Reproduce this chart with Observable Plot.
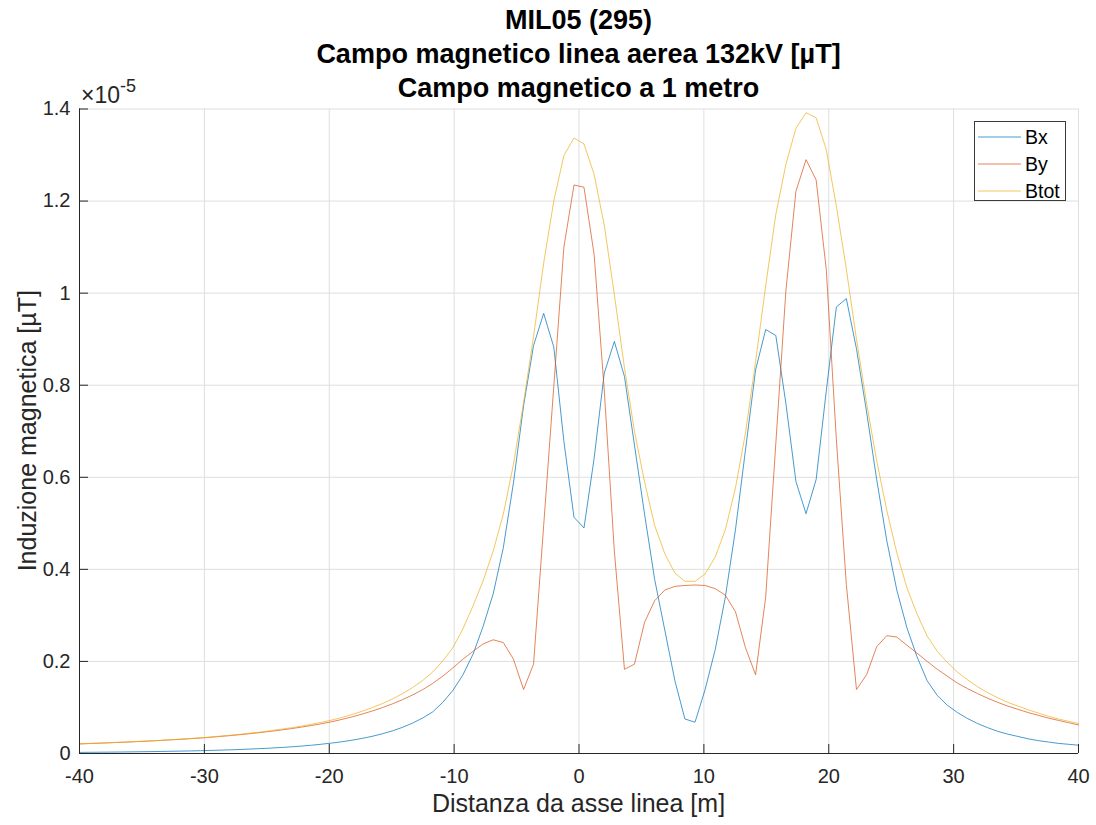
<!DOCTYPE html>
<html><head><meta charset="utf-8">
<script src="https://cdn.jsdelivr.net/npm/d3@7"></script>
<script src="https://cdn.jsdelivr.net/npm/@observablehq/plot@0.6"></script>
<style>
body{margin:0;background:#fff;}
#wrap{position:relative;width:1096px;height:825px;font-family:"Liberation Sans",Arial,Helvetica,sans-serif;}
#legend{position:absolute;left:974px;top:121px;width:92px;height:80px;border:1px solid #3a3a3a;background:#fff;box-sizing:border-box;}
.lrow{position:absolute;left:3px;height:22px;display:flex;align-items:center;font-size:19.5px;color:#000;}
.lrow svg{margin-right:4px;}
</style></head><body><div id="wrap"></div>
<script>
// sample positions along the line axis [m]
const xs = [-40.00,-39.19,-38.38,-37.58,-36.77,-35.96,-35.15,-34.34,-33.54,-32.73,
-31.92,-31.11,-30.30,-29.49,-28.69,-27.88,-27.07,-26.26,-25.45,-24.65,
-23.84,-23.03,-22.22,-21.41,-20.61,-19.80,-18.99,-18.18,-17.37,-16.57,
-15.76,-14.95,-14.14,-13.33,-12.53,-11.72,-10.91,-10.10,-9.29,-8.48,
-7.68,-6.87,-6.06,-5.25,-4.44,-3.64,-2.83,-2.02,-1.21,-0.40,
0.40,1.21,2.02,2.83,3.64,4.44,5.25,6.06,6.87,7.68,
8.48,9.29,10.10,10.91,11.72,12.53,13.33,14.14,14.95,15.76,
16.57,17.37,18.18,18.99,19.80,20.61,21.41,22.22,23.03,23.84,
24.65,25.45,26.26,27.07,27.88,28.69,29.49,30.30,31.11,31.92,
32.73,33.54,34.34,35.15,35.96,36.77,37.58,38.38,39.19,40.00];

// values in units of 1e-5
const bx = [0.0024,0.0026,0.0028,0.0030,0.0032,0.0035,0.0038,0.0041,0.0044,0.0048,
0.0052,0.0056,0.0061,0.0067,0.0073,0.0080,0.0088,0.0097,0.0107,0.0118,
0.0131,0.0145,0.0161,0.0180,0.0202,0.0227,0.0255,0.0289,0.0328,0.0373,
0.0427,0.0491,0.0568,0.0660,0.0769,0.0903,0.111,0.137,0.171,0.216,
0.276,0.347,0.447,0.588,0.755,0.886,0.956,0.883,0.678,0.513,
0.490,0.641,0.826,0.895,0.819,0.670,0.520,0.378,0.268,0.158,
0.075,0.068,0.139,0.226,0.340,0.486,0.659,0.833,0.921,0.908,
0.760,0.591,0.521,0.595,0.787,0.970,0.988,0.879,0.742,0.595,
0.462,0.355,0.273,0.210,0.158,0.126,0.105,0.089,0.076,0.065,
0.056,0.048,0.042,0.037,0.032,0.028,0.025,0.022,0.020,0.018];

const by = [0.0208,0.0216,0.0224,0.0233,0.0242,0.0251,0.0262,0.0272,0.0283,0.0296,
0.0308,0.0322,0.0336,0.0353,0.0371,0.0390,0.0411,0.0433,0.0457,0.0483,
0.0511,0.0541,0.0573,0.0609,0.0647,0.0690,0.0740,0.0795,0.0856,0.0922,
0.0995,0.1077,0.1169,0.1271,0.1385,0.1521,0.168,0.186,0.205,0.222,
0.238,0.247,0.241,0.205,0.139,0.194,0.495,0.797,1.100,1.235,
1.230,1.084,0.790,0.440,0.183,0.194,0.285,0.332,0.355,0.363,
0.365,0.366,0.365,0.358,0.344,0.308,0.230,0.171,0.340,0.673,
1.006,1.221,1.290,1.246,1.052,0.682,0.367,0.139,0.171,0.232,
0.256,0.253,0.235,0.218,0.200,0.183,0.168,0.153,0.141,0.130,
0.120,0.111,0.103,0.096,0.089,0.083,0.077,0.072,0.067,0.062];

const btot = [0.0209,0.0218,0.0226,0.0235,0.0244,0.0253,0.0265,0.0275,0.0286,0.0300,
0.0312,0.0327,0.0342,0.0359,0.0378,0.0398,0.0420,0.0444,0.0469,0.0497,
0.0528,0.0560,0.0595,0.0635,0.0678,0.0726,0.0783,0.0846,0.0917,0.0995,
0.1083,0.1184,0.1300,0.1432,0.1584,0.1769,0.201,0.230,0.271,0.321,
0.375,0.440,0.520,0.628,0.762,0.906,1.065,1.200,1.299,1.337,
1.324,1.258,1.148,0.997,0.838,0.700,0.590,0.495,0.434,0.392,
0.374,0.374,0.390,0.427,0.486,0.577,0.696,0.851,1.016,1.171,
1.280,1.358,1.392,1.381,1.312,1.189,1.052,0.900,0.761,0.636,
0.528,0.436,0.360,0.303,0.255,0.222,0.198,0.177,0.160,0.145,
0.132,0.121,0.111,0.103,0.095,0.088,0.081,0.075,0.070,0.065];

const seriesNames = ["Bx","By","Btot"];
const seriesColors = ["#0072BD","#D95319","#EDB120"];
const xTicks = [-40,-30,-20,-10,0,10,20,30,40];
const yTicks = [0,0.2,0.4,0.6,0.8,1,1.2,1.4];
const titleLines = ["MIL05 (295)","Campo magnetico linea aerea 132kV [µT]","Campo magnetico a 1 metro"];
const xLabel = "Distanza da asse linea [m]";
const yLabel = "Induzione magnetica [µT]";
const yExponent = "-5";

const rows = [];
[bx, by, btot].forEach((arr, k) => arr.forEach((v, i) => rows.push({x: xs[i], v, s: seriesNames[k]})));

const FONT = '"Liberation Sans", Arial, Helvetica, sans-serif';
const W = 1096, H = 825, mL = 79, mR = 18, mT = 108.5, mB = 72;
const AX = "#262626";

const chart = Plot.plot({
  width: W, height: H,
  marginLeft: mL, marginRight: mR, marginTop: mT, marginBottom: mB,
  style: {fontFamily: FONT, fontSize: "20px", color: AX, background: "#fff", overflow: "visible"},
  x: {domain: [-40, 40]},
  y: {domain: [0, 1.4]},
  color: {domain: seriesNames, range: seriesColors},
  marks: [
    Plot.gridX(xTicks, {stroke: "#dfdfdf", strokeOpacity: 1}),
    Plot.gridY(yTicks, {stroke: "#dfdfdf", strokeOpacity: 1}),
    Plot.line(rows, {x: "x", y: "v", z: "s", stroke: "s", strokeWidth: 0.9, strokeOpacity: 0.8}),
    Plot.ruleY([0], {stroke: AX, strokeWidth: 1}),
    Plot.ruleX([-40], {stroke: AX, strokeWidth: 1}),
    Plot.axisX(xTicks, {tickSize: 9, dy: -9, tickFormat: () => "", label: null, stroke: AX}),
    Plot.axisX(xTicks, {tickSize: 0, tickPadding: 15, tickFormat: d => String(d), label: null, fill: AX, fontSize: 20}),
    Plot.axisY(yTicks, {tickSize: 9, dx: 9, tickFormat: () => "", label: null, stroke: AX}),
    Plot.axisY(yTicks, {tickSize: 0, tickPadding: 9, tickFormat: d => String(+d.toFixed(2)), label: null, fill: AX, fontSize: 20})
  ]
});

const wrap = document.getElementById("wrap");
wrap.appendChild(chart);

const svg = d3.select(chart);
const cx = (mL + (W - mR)) / 2;
const g = svg.append("g").attr("font-family", FONT).attr("text-anchor", "start");
titleLines.forEach((t, i) => {
  g.append("text").attr("x", cx).attr("y", 29 + i * 34)
    .attr("text-anchor", "middle").style("font-weight", "bold")
    .style("font-size", "27px").attr("fill", "#000").text(t);
});
const ex = g.append("text").attr("x", 81).attr("y", 103).attr("text-anchor", "start")
  .style("font-size", "23px").attr("fill", AX);
ex.append("tspan").text("×10");
ex.append("tspan").style("font-size", "18px").attr("dy", -11).text(yExponent);

g.append("text").attr("x", cx).attr("y", 812).attr("text-anchor", "middle")
  .style("font-size", "25px").attr("fill", AX).text(xLabel);
g.append("text").attr("transform", `translate(36,${(mT + H - mB) / 2}) rotate(-90)`)
  .attr("text-anchor", "middle").style("font-size", "25px").attr("fill", AX).text(yLabel);

// legend
const leg = d3.select(wrap).append("div").attr("id", "legend");
seriesNames.forEach((n, i) => {
  const r = leg.append("div").attr("class", "lrow").style("top", (4 + i * 27) + "px");
  const s = r.append("svg").attr("width", 43).attr("height", 4);
  s.append("line").attr("x1", 0).attr("x2", 43).attr("y1", 2).attr("y2", 2)
    .attr("stroke", seriesColors[i]).attr("stroke-width", 0.9).attr("stroke-opacity", 0.8);
  r.append("span").text(n);
});
</script></body></html>
